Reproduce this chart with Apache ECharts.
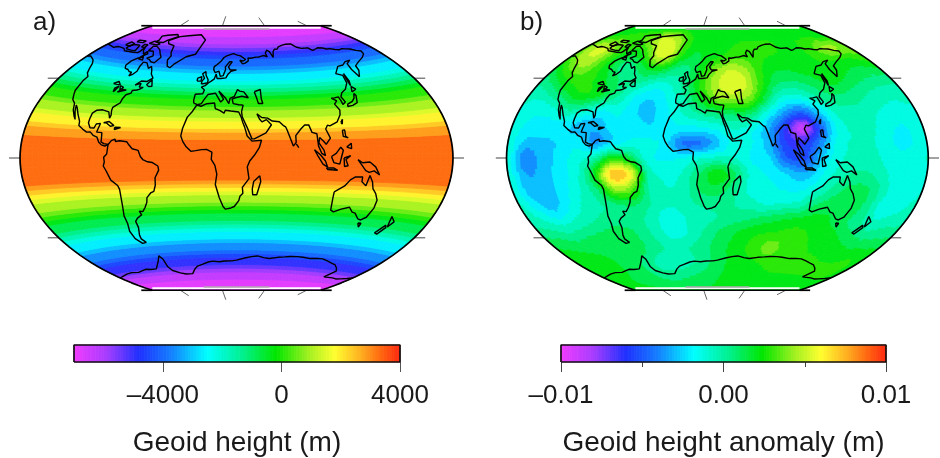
<!DOCTYPE html>
<html><head><meta charset="utf-8">
<style>html,body{margin:0;padding:0;background:#fff}#c{width:940px;height:458px}</style>
<script src="https://cdn.jsdelivr.net/npm/echarts@6/dist/echarts.min.js"></script>
</head><body><div id="c"></div>
<script>
// ---- values ----
const panelLabels = ['a)', 'b)'];
const barTitles = ['Geoid height (m)', 'Geoid height anomaly (m)'];
const barTicksA = [-4000, 0, 4000];
// panel a: geoid height (m) from 90N to 90S in 5 degree steps
const geoidByLat = [-6950,-6700,-6300,-5500,-4800,-4000,-3400,-2700,-1800,-1000,-200,450,1050,1700,2300,2950,3200,3350,3400,3350,3250,3050,2250,1400,650,-150,-800,-1500,-2300,-2800,-3600,-4300,-5000,-5600,-6300,-6700,-6950];
// panel b: anomaly in 1e-4 m; rows every 10 degrees from 90N, columns every 15 degrees from 150W to 210E
const anomalyRows = [
[18,18,18,18,18,18,18,18,18,18,18,18,18,18,18,18,18,18,18,18,18,18,18,18,18],
[22,25,28,30,32,38,50,52,45,30,22,20,20,22,24,25,25,25,24,24,24,24,24,22,22],
[38,48,50,36,26,22,34,55,50,26,16,18,22,28,30,28,26,25,24,24,26,34,44,42,38],
[30,45,46,30,16,4,10,22,18,5,8,25,42,50,45,30,20,18,20,22,24,24,22,24,30],
[12,25,32,28,20,10,4,-2,-10,-6,8,30,48,56,50,28,10,6,10,16,20,16,12,10,12],
[-2,4,15,24,22,10,-5,-20,-24,-14,0,20,38,42,38,14,-10,-14,-5,6,8,4,0,-3,-2],
[-8,-12,-8,2,-6,-18,-15,-24,-26,-18,-8,0,6,10,8,-14,-35,-48,-30,-8,-2,-3,-8,-10,-8],
[-10,-18,-20,-20,-30,-30,-20,-18,-24,-20,-20,-20,-15,-8,-14,-32,-60,-88,-50,-16,-6,-6,-14,-16,-10],
[-10,-26,-26,-24,-20,-35,-22,-14,-14,-20,-42,-42,-28,-12,-16,-32,-58,-60,-38,-12,-8,-8,-16,-18,-10],
[-8,-38,-30,-22,-12,-2,25,15,-12,-18,-16,-10,-6,-8,-18,-24,-48,-52,-25,-10,-6,-6,-14,-14,-8],
[-10,-32,-30,-20,-10,22,72,60,0,-10,-8,8,22,10,-12,-18,-26,-32,-18,-4,2,0,-10,-16,-10],
[-8,-28,-30,-20,-8,8,42,36,0,-8,-5,10,14,4,-12,-14,-18,-18,-8,5,12,8,-8,-14,-8],
[-4,-16,-26,-16,-5,0,8,10,0,-6,-4,2,4,0,-5,-10,-8,-5,8,14,14,6,-12,-10,-4],
[2,-2,-8,-4,0,4,5,2,-5,-16,-8,-4,0,4,6,10,14,18,20,18,12,4,-4,0,2],
[14,12,8,10,12,14,12,4,-4,-14,-8,0,8,14,20,24,26,28,26,22,20,14,10,12,14],
[22,20,18,16,15,14,12,5,0,-2,0,5,12,18,24,30,38,30,27,25,24,22,22,24,22],
[24,22,20,18,14,10,4,-3,-5,-4,0,6,12,18,22,24,26,26,26,26,26,26,26,26,24],
[22,20,18,16,14,12,8,6,6,8,10,12,16,18,20,22,24,24,24,24,24,24,24,24,22],
[18,18,18,18,18,18,18,18,18,18,18,18,18,18,18,18,18,18,18,18,18,18,18,18,18]];
// colour scale stops [fraction, colour]
const paletteStops = [[0,'#f23cff'],[0.1,'#a83cff'],[0.2,'#2030ff'],[0.3,'#1480ff'],[0.41,'#00ffff'],[0.52,'#00f08c'],[0.62,'#00e600'],[0.72,'#a0f020'],[0.8,'#ffff30'],[0.88,'#ffb020'],[0.94,'#ff6a10'],[1,'#ff2a10']];
const paletteBins = 24;
// coastlines as lon,lat pairs; the map spans 150W to 210E around 30E
const northAmerica=[-150,70.4,-145,70,-141,69.6,-135,69,-132,70,-128,70,-125,69.5,-120,69.5,-115,68,-108,68,-102,67.8,-100,68,-96,68,-95,69,-94,72,-92,70,-90,69,-87,67.5,-85,69.5,-82,68,-81,67,-86,66,-87,65,-90,63.8,-93,62,-94.5,59,-92,57,-88,56.5,-85,55.3,-82,55,-82,52.5,-79.5,51.5,-79,54,-77,56,-78,59,-78,62.3,-73,62,-70,61,-67,58.5,-65,60,-62,57.5,-60,55,-56,52.5,-60,50,-66,50,-70,47,-65,48.5,-65,46,-61,46,-64,44.5,-66,44,-67,45,-70,43.5,-70,41.7,-74,40.5,-75.5,38,-76,35,-78,33.8,-81,32,-81,30,-80,27,-80.5,25,-81.8,26,-83,29,-85,29.7,-89,30,-90,29,-94,29.5,-97,27.5,-97.5,24,-97.5,21.5,-95,18.5,-91.5,18.5,-90.5,21,-87,21.5,-88,18,-88.5,16,-84,15.8,-83.5,12,-83.5,10,-81,9,-79.5,9.5,-77.3,8.5,-77.5,7.5,-80,7.5,-83,8.2,-85.5,10,-87.5,13,-91,14,-94,16,-97,15.8,-101,17.5,-105,19.5,-105.5,22,-109,26,-112.5,30,-114.5,31.5,-113,28,-110,23,-112,25,-115,28.5,-117,32.5,-120.5,34.5,-122.5,37.5,-124,40,-124,46,-123,49,-127,51,-130,54,-133,57,-137,59,-141,60,-146,61,-150,60.5];
const southAmerica=[-77.3,8.5,-75,11,-72,12,-71.5,10.5,-68,11,-62,10.5,-60,8.5,-57,6,-52,5,-50,1,-48,-1,-44,-2.5,-40,-3,-35.5,-5.3,-35,-8,-38.5,-13,-39,-18,-41,-22,-44,-23,-48,-26,-49,-29,-52,-32.5,-55,-35,-58,-34.5,-57,-37,-62,-39,-65,-41,-65,-45,-68,-50,-68.5,-52.5,-65.5,-55,-70,-55.5,-74.5,-52,-75.5,-47,-73.5,-42,-73.5,-37,-71.5,-31,-70,-20,-71,-17.5,-76,-14,-79,-8,-81,-5,-80,-2.5,-80.5,0.5,-78,2.5,-77.5,7,-77.3,8.5];
const africa=[-6,35.8,-2,35,3,36.8,10,37.3,11,33.5,15,32.3,19,30.5,20,32.5,25,32,32,31.3,34,28,35.5,24,37,21,39,15,43,11.5,51,12,49,7,45,2,41,-2,39,-6,40.5,-14,35,-20,35.5,-24,33,-26,32,-29,28,-33,25,-34,20,-34.8,18,-33,15,-27,12,-18,13.5,-11,12,-5,9,-1,9.5,4,5,5.8,1,5.7,-4,5,-8,4.5,-12,7.5,-15,11,-17,14.8,-16,20,-13,27.5,-9.5,31,-6,35.8];
const eurasia=[-9,37,-9.5,39,-9,43,-2,43.5,-1,46,-4.5,48,-1,49,2,51,4,52,7,53.5,8.5,57,10.5,57,10,54,12,54,14,54,19,54.5,21,57,24,59,30,60,23,60,21,62,25,65.5,22,65.5,17.5,62,18,60,16,56,13,55.5,11,59,7,58,5,60,5,62,8,63.5,12,66,15,68.5,18,69.5,20,70,23,70.5,26,71,28,71,31,70,35,69.5,41,67,38,66,34,66.5,37,64,40,64.5,44,66,44,68,47,67.8,54,68.5,57,68.5,60,69,64,69.5,68,68.5,67,71,67,72,70,73,73,72,75,68,78,72,81,73.5,85,73.5,88,75,95,76,100,76.5,104,77.7,108,76.5,113,74,118,73,124,73,127,73,130,71,134,71.5,140,72.5,146,72,150,71,155,71,160,70,165,69.5,170,70,175,69.5,180,69,185,67.5,190,66.5,188,64.5,181,62.5,178,62,170,60,163,58,162,55,157,51,155,56,156,60,163,62,156,61.5,150,59.5,143,59,135,54.5,141,53,140,48,135,44,130,42,127.5,39.5,129.5,36,126.5,34.5,126,37,125,39.5,121,39,118,39,122,37,119,35,122,31,121,28,117,23.5,110,21,108,21.5,106,19,109,13,105,9,103,11,100,13.5,99,10,103,5,104,1.5,101,3,98.5,8,98,16,94,17,92,22,88.5,22,85,19.5,80,15,80,10.5,77.5,8,73,19,72,21,70,22,67,24.5,61,25,57,27,52,27.5,48,30,50,26.5,52,24.5,56,26,60,22.5,55,17,45,13,43,13,39,21,35,28,34.5,31.5,36,36,32,36.2,27,37,26,40,29,41,35,42,41,41,37,45,33,45.5,31,46.5,28,42,24,40.5,23,37,19.5,41,13,45.5,18,40,15.5,38,10,44,3,43,0,39.5,-2,36.8,-5.5,36,-9,37];
const antarctica=[-150,-76,-140,-75,-130,-74,-120,-73.5,-110,-74,-100,-73,-94,-72.5,-88,-73,-80,-73,-75,-72,-68,-68,-62,-64.5,-60,-67,-62,-72,-60,-75,-52,-77,-45,-78,-35,-78,-28,-75,-22,-73,-15,-72,-6,-70.5,0,-70,8,-70.5,15,-70,24,-70,30,-69.5,40,-68,48,-67,55,-66.5,63,-67.5,70,-68,80,-67,88,-66.5,95,-66,103,-65.8,110,-66,120,-66.5,128,-66,135,-66,143,-67,150,-68,158,-69,165,-71,170,-73,165,-78,172,-78,180,-78,188,-78.5,195,-78,203,-77,210,-76];
const greenland=[-73,78.2,-68,76,-58,75,-54,70,-51,68,-52,65,-48,61,-44,60,-41,63,-32,68,-22,70,-20,75,-18,80,-30,83.5,-50,82.5,-62,81.5,-73,78.2];
const baffin=[-80,73.5,-72,71.5,-67,69,-62,66.5,-65,62.5,-70,63,-74,64.5,-78,65,-73,67,-78,70,-85,70,-89,71,-85,73.5,-80,73.5];
const victoria=[-117,69.5,-108,69,-102,69,-105,73,-114,73,-118,71,-117,69.5];
const ellesmere=[-90,76.5,-78,76.5,-75,78.5,-65,81.5,-70,83,-85,82,-92,81,-88,78,-90,76.5];
const banks=[-125,72,-118,71.5,-115,73.5,-123,74.5,-125,72];
const devon=[-96,75,-82,74.5,-80,75.5,-92,77,-96,75];
const melville=[-116,75,-106,75,-105,76.5,-116,76.5,-116,75];
const southampton=[-87,64,-81,63.5,-84,66,-87,64];
const princeWales=[-100,72,-95,72,-95,74,-100,74,-100,72];
const superior=[-92,46.8,-88,48.5,-85,47.5,-84.7,46.5,-88,46.5,-92,46.8];
const michigan=[-87.5,41.7,-86.3,43,-85,45.5,-87,45.5,-88,44,-87.5,41.7];
const huron=[-84,46,-80,45,-82,43,-84,44,-84,46];
const erie=[-83.3,41.7,-79,42.8,-76,43.5,-79.5,43.5,-83,42.2,-83.3,41.7];
const newfoundland=[-59,47.7,-56,51.5,-53,47,-56,46.8,-59,47.7];
const cuba=[-84.5,22,-80,23,-75,20.5,-74.2,20,-78,20,-82,22,-84.5,22];
const hispaniola=[-74,19.5,-69,19.5,-68.5,18.3,-74,18,-74,19.5];
const madagascar=[49.5,-12,50.5,-16,47.5,-25,44,-25,43.5,-21,44.5,-16,49.5,-12];
const caspian=[47,45,53,46.5,53,40,54,37,50,37,49,40,47,45];
const britain=[-5,50,1,51,1,53,-2,56,-3,58.5,-6,57,-3,54,-5,52,-5,50];
const ireland=[-10,52,-6,52,-6,55,-10,54,-10,52];
const honshu=[130,33,135,33.5,140,35,142,39.5,141,41,139,38,136,36,131,34.5,130,33];
const hokkaido=[140,42,145,43.5,142,45.5,140,42];
const sakhalin=[142,46,143.5,49,143,54,142,51,142,46];
const taiwan=[120,23,122,25,121,22,120,23];
const luzon=[120,18,122,18,122,14,124,13,120,14,120,18];
const mindanao=[122,7,126,9.5,126,6,122,7];
const borneo=[109,1,113,3,117,7,119,5,117.5,1,116,-4,111,-3,109,1];
const sumatra=[95,5.5,100,2,104,-2,106,-6,102,-4,98,1,95,5.5];
const java=[105,-6.5,111,-6.5,114.5,-8,106,-7.5,105,-6.5];
const sulawesi=[119.5,0,125,1.5,121,-1,123,-5,120,-5.5,119.5,0];
const newGuinea=[131,-1,135,-3,141,-2.5,146,-5.5,150,-10.5,145,-8,141,-9,138,-8,134,-4,131,-1];
const australia=[114,-22,122,-18,126,-14,130,-12,136,-12,136,-15,140,-17.5,142,-11,145,-15,146.5,-19,150,-22,153,-26,153,-31,150,-37,146,-39,143,-38.5,138,-35,135,-34.5,131,-31.5,124,-33,118,-35,115,-34,114,-26,114,-22];
const tasmania=[145,-41,148,-41,147.5,-43.5,146,-43.5,145,-41];
const nzNorth=[173,-35,178,-38,175,-41.5,174,-39,173,-35];
const nzSouth=[172.5,-40.5,174,-42,170,-46.5,167,-46,172.5,-40.5];
const sriLanka=[80,9.5,82,7,80.5,6,80,9.5];
const coastlines=[northAmerica,southAmerica,africa,eurasia,antarctica,greenland,baffin,victoria,ellesmere,banks,devon,melville,southampton,princeWales,superior,michigan,huron,erie,newfoundland,cuba,hispaniola,madagascar,caspian,britain,ireland,honshu,hokkaido,sakhalin,taiwan,luzon,mindanao,borneo,sumatra,java,sulawesi,newGuinea,australia,tasmania,nzNorth,nzSouth,sriLanka];

// ---- Winkel tripel, central meridian 30E ----
const rad=Math.PI/180, centerLon=30;
function project(lon,lat){
  const l=(lon-centerLon)*rad, p=lat*rad;
  const a=Math.acos(Math.cos(p)*Math.cos(l/2));
  const s=a<1e-9?1:Math.sin(a)/a;
  return [0.5*(l*2/Math.PI+2*Math.cos(p)*Math.sin(l/2)/s),0.5*(p+Math.sin(p)/s)];
}
// ---- colour ----
function hex(c){return [1,3,5].map(i=>parseInt(c.substr(i,2),16));}
function stopColor(t){
  for(let i=1;i<paletteStops.length;i++){
    if(t<=paletteStops[i][0]){
      const a=paletteStops[i-1],b=paletteStops[i],f=(t-a[0])/(b[0]-a[0]);
      const x=hex(a[1]),y=hex(b[1]);
      return 'rgb('+x.map((v,k)=>Math.round(v+(y[k]-v)*f)).join(',')+')';
    }
  }
  return paletteStops[paletteStops.length-1][1];
}
const binColors=[];
for(let i=0;i<paletteBins;i++)binColors.push(stopColor((i+0.5)/paletteBins));
function binOf(v,lo,hi){return Math.max(0,Math.min(paletteBins-1,Math.floor((v-lo)/(hi-lo)*paletteBins)));}
// ---- display shading of the read values ----
function heightAt(lat){
  const u=(90-lat)/5,i=Math.min(geoidByLat.length-2,Math.floor(u)),f=u-i;
  return geoidByLat[i]*(1-f)+geoidByLat[i+1]*f;
}
function cr(a,b,c,d,t){return 0.5*(2*b+(c-a)*t+(2*a-5*b+4*c-d)*t*t+(3*b-a-3*c+d)*t*t*t);}
function anomalyAt(lon,lat){
  const u=(lon+150)/15,v=(90-lat)/10,i=Math.floor(u),j=Math.floor(v),fu=u-i,fv=v-j,R=[];
  for(let n=-1;n<=2;n++){
    const r=anomalyRows[Math.max(0,Math.min(18,j+n))],g=m=>r[Math.max(0,Math.min(24,i+m))];
    R.push(cr(g(-1),g(0),g(1),g(2),fu));
  }
  return cr(R[0],R[1],R[2],R[3],fv)*1e-4;
}
function cells(fn,lo,hi,dlon,dlat){
  const out=[];
  for(let la=-90+dlat/2;la<90;la+=dlat)for(let lo2=-150+dlon/2;lo2<210;lo2+=dlon)
    out.push([lo2,la,binOf(fn(lo2,la),lo,hi)]);
  return out;
}
const PX=84.2; // pixels per projected unit
function fieldSeries(ax,data,dlon,dlat){
  return {type:'custom',xAxisIndex:ax,yAxisIndex:ax,silent:true,progressive:0,animation:false,z:1,data,
    renderItem(p,api){
      const lon=api.value(0),lat=api.value(1),c=binColors[api.value(2)];
      const pts=[[lon-dlon/2,lat-dlat/2],[lon+dlon/2,lat-dlat/2],[lon+dlon/2,lat+dlat/2],[lon-dlon/2,lat+dlat/2]].map(q=>api.coord(project(q[0],q[1])));
      return {type:'polygon',shape:{points:pts},style:{fill:c,stroke:c,lineWidth:0.8}};
    }};
}
function lineS(ax,data,color,w,z){
  return {type:'line',xAxisIndex:ax,yAxisIndex:ax,data,showSymbol:false,symbol:'none',silent:true,animation:false,z:z||5,clip:false,
    lineStyle:{color,width:w}};
}
function mapSeries(ax,data,dlon,dlat){
  const s=[fieldSeries(ax,data,dlon,dlat)];
  const top=Math.PI/2;
  [1,-1].forEach(sg=>{
    s.push(lineS(ax,[[-1,sg*(top-1.9/PX)],[1,sg*(top-1.9/PX)]],'#ffffff',2,4));
    s.push(lineS(ax,[[-0.39,sg*(top-3.2/PX)],[0.39,sg*(top-3.2/PX)]],'#b0a8b0',1.5,4));
  });
  const frame=[];
  for(let la=-90;la<=90;la+=3)frame.push(project(210,la));
  for(let la=90;la>=-90;la-=3)frame.push(project(-150,la));
  frame.push(frame[0]);
  s.push(lineS(ax,frame,'#000',1.7,6));
  [-90,-45,0,45,90].forEach(la=>{[210,-150].forEach(lo=>{
    const p=project(lo,la),d=lo>0?1:-1;
    s.push(lineS(ax,[p,[p[0]+d*11/PX,p[1]]],Math.abs(la)==90?'#000':'#444',Math.abs(la)==90?1.7:1,3));
  });});
  [-90,0,90,180].forEach(lo=>{[90,-90].forEach(la=>{
    const p=project(lo,la),q=project(lo,la-Math.sign(la)*15);
    const dx=p[0]-q[0],dy=p[1]-q[1],n=Math.hypot(dx,dy);
    s.push(lineS(ax,[p,[p[0]+dx/n*10/PX,p[1]+dy/n*10/PX]],'#666',1,3));
  });});
  coastlines.forEach(c=>{
    const pts=[];
    for(let i=0;i<c.length;i+=2)pts.push(project(c[i],c[i+1]));
    s.push(lineS(ax,pts,'#000',1.4,5));
  });
  return s;
}
function barSeries(ax,lo,hi){
  const d=[],n=paletteBins*5;
  for(let i=0;i<n;i++)d.push([lo+(hi-lo)*i/n,lo+(hi-lo)*(i+1)/n,(i+0.5)/n]);
  return [{type:'custom',xAxisIndex:ax,yAxisIndex:ax,silent:true,animation:false,z:1,data:d,encode:{x:[0,1]},
    renderItem(p,api){
      const a=api.coord([api.value(0),0]),b=api.coord([api.value(1),1]),c=stopColor(api.value(2));
      return {type:'rect',shape:{x:a[0],y:b[1],width:b[0]-a[0],height:a[1]-b[1]},style:{fill:c,stroke:c,lineWidth:0.8}};
    }},
    lineS(ax,[[lo,0],[hi,0],[hi,1],[lo,1],[lo,0]],'#111',1.7,6)];
}
const fmt=(dec)=>v=>{const t=Math.abs(v).toFixed(dec);return v<-1e-9?'\u2013'+t:t;};
const F='"Liberation Sans",Arial,sans-serif';
const INK='#1a1a1a';
const hiddenX={type:'value',show:false,min:-228.5/PX,max:228.5/PX};
const hiddenY={type:'value',show:false,min:-144/PX,max:144/PX};
function barX(gi,lo,hi,extra,name,gap){
  return Object.assign({type:'value',gridIndex:gi,min:lo,max:hi,splitLine:{show:false},axisLine:{show:false},
    name,nameLocation:'middle',nameGap:gap,nameTextStyle:{fontFamily:F,fontSize:28,color:INK}},extra);
}
const lab=d=>({show:true,margin:21,fontFamily:F,fontSize:26,color:INK,formatter:fmt(d),showMinLabel:true,showMaxLabel:true,hideOverlap:false});
const option={
  animation:false,backgroundColor:'#fff',
  title:[
    {text:panelLabels[0],left:28,top:5,textStyle:{fontFamily:F,fontSize:26,fontWeight:'normal',color:INK}},
    {text:panelLabels[1],left:515,top:5,textStyle:{fontFamily:F,fontSize:26,fontWeight:'normal',color:INK}}
  ],
  grid:[
    {left:8,top:14,width:457,height:288},
    {left:494.8,top:14,width:457,height:288},
    {left:74,top:345,width:326,height:17},
    {left:561,top:345,width:325,height:17}
  ],
  xAxis:[
    Object.assign({gridIndex:0},hiddenX),Object.assign({gridIndex:1},hiddenX),
    barX(2,-7000,4000,{axisTick:{length:10,lineStyle:{color:'#555'},customValues:barTicksA},axisLabel:Object.assign(lab(0),{customValues:barTicksA})},barTitles[0],67),
    barX(3,-0.01,0.01,{interval:0.01,axisTick:{length:10,lineStyle:{color:'#444'}},minorTick:{show:true,splitNumber:2,length:5,lineStyle:{color:'#444'}},axisLabel:lab(2)},barTitles[1],67)
  ],
  yAxis:[
    Object.assign({gridIndex:0},hiddenY),Object.assign({gridIndex:1},hiddenY),
    {type:'value',gridIndex:2,show:false,min:0,max:1},{type:'value',gridIndex:3,show:false,min:0,max:1}
  ],
  series:[].concat(
    mapSeries(0,cells((lo,la)=>heightAt(la),-7000,4000,5,2.5),5,2.5),
    mapSeries(1,cells(anomalyAt,-0.01,0.01,2,1.5),2,1.5),
    barSeries(2,-7000,4000),
    barSeries(3,-0.01,0.01)
  )
};
const chart=echarts.init(document.getElementById('c'),null,{renderer:'canvas'});
chart.setOption(option);
</script></body></html>
